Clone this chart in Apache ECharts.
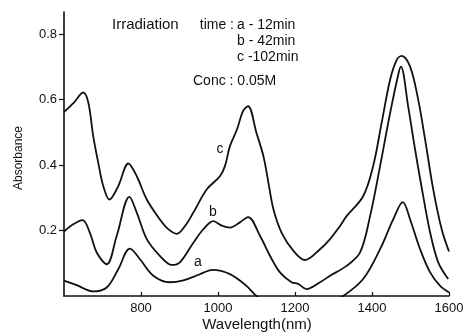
<!DOCTYPE html>
<html>
<head>
<meta charset="utf-8">
<script src="https://cdn.jsdelivr.net/npm/echarts@6/dist/echarts.min.js"></script>
<style>html,body{margin:0;padding:0;background:#fff}#c{width:468px;height:334px}</style>
</head>
<body>
<div id="c"></div>
<script>
// Curve a: irradiation 12 min
var waveA = [600, 633, 676, 711, 741, 771, 797, 832, 875, 910, 950, 986, 1031, 1074, 1100, 1150, 1250, 1325, 1377, 1421, 1455, 1480, 1499, 1525, 1551, 1577, 1600];
var absA  = [0.047, 0.033, 0.014, 0.026, 0.082, 0.145, 0.113, 0.062, 0.042, 0.048, 0.065, 0.080, 0.067, 0.031, 0.0, -0.04, -0.05, 0.0, 0.052, 0.143, 0.234, 0.287, 0.234, 0.143, 0.072, 0.031, 0.011];
// Curve b: irradiation 42 min
var waveB = [600, 624, 648, 667, 685, 711, 737, 770, 789, 815, 849, 880, 901, 936, 962, 988, 1010, 1031, 1057, 1078, 1109, 1135, 1161, 1191, 1208, 1230, 1265, 1291, 1334, 1369, 1395, 1421, 1447, 1469, 1475, 1494, 1512, 1533, 1551, 1572, 1598];
var absB  = [0.197, 0.219, 0.232, 0.194, 0.133, 0.097, 0.184, 0.303, 0.255, 0.174, 0.123, 0.095, 0.103, 0.163, 0.204, 0.229, 0.215, 0.209, 0.225, 0.241, 0.184, 0.123, 0.072, 0.042, 0.037, 0.021, 0.042, 0.062, 0.092, 0.133, 0.244, 0.397, 0.559, 0.681, 0.701, 0.579, 0.447, 0.305, 0.194, 0.103, 0.052];
// Curve c: irradiation 102 min
var waveC = [600, 625, 650, 663, 676, 689, 702, 718, 741, 767, 789, 815, 849, 870, 893, 915, 936, 971, 1005, 1018, 1031, 1049, 1065, 1078, 1100, 1118, 1131, 1144, 1165, 1196, 1226, 1265, 1291, 1317, 1334, 1377, 1403, 1425, 1447, 1464, 1477, 1499, 1520, 1538, 1559, 1581, 1600];
var absC  = [0.562, 0.590, 0.622, 0.592, 0.488, 0.407, 0.336, 0.295, 0.336, 0.405, 0.366, 0.295, 0.234, 0.205, 0.190, 0.215, 0.255, 0.326, 0.366, 0.397, 0.458, 0.508, 0.565, 0.580, 0.498, 0.427, 0.346, 0.265, 0.194, 0.138, 0.110, 0.143, 0.174, 0.214, 0.244, 0.305, 0.397, 0.529, 0.661, 0.721, 0.734, 0.701, 0.600, 0.478, 0.326, 0.204, 0.136];

var xTicks = [800, 1000, 1200, 1400, 1600];
var yTicks = [0.2, 0.4, 0.6, 0.8];
var curveNames = ['a', 'b', 'c'];
var legendLines = ['a - 12min', 'b - 42min', 'c -102min'];
var concText = 'Conc : 0.05M';

function pairs(xs, ys) { return xs.map(function (x, i) { return [x, ys[i]]; }); }

var FONT = 'Liberation Sans';
var INK = '#111';
var chart = echarts.init(document.getElementById('c'), null, { renderer: 'canvas' });

function lineSeries(xs, ys) {
  return {
    type: 'line', data: pairs(xs, ys), smooth: 0.35, symbol: 'none', clip: true,
    lineStyle: { color: INK, width: 1.8 }
  };
}

chart.setOption({
  animation: false,
  backgroundColor: '#fff',
  grid: { left: 64, right: 19, top: 12, bottom: 38 },
  xAxis: {
    type: 'value', min: 600, max: 1600,
    axisLine: { lineStyle: { color: INK, width: 1.6 } },
    axisTick: { inside: true, length: 4, customValues: xTicks, lineStyle: { color: INK, width: 1.2 } },
    axisLabel: { customValues: xTicks, margin: 6, color: INK, fontSize: 13, fontFamily: FONT,
      formatter: function (v) { return String(v); } },
    splitLine: { show: false }
  },
  yAxis: {
    type: 'value', min: 0, max: 0.868,
    axisLine: { show: true, lineStyle: { color: INK, width: 1.6 } },
    axisTick: { show: true, inside: false, length: 5, customValues: yTicks, lineStyle: { color: INK, width: 1.2 } },
    axisLabel: { customValues: yTicks, margin: 7, color: INK, fontSize: 13, fontFamily: FONT,
      formatter: function (v) { return v.toFixed(1); } },
    splitLine: { show: false }
  },
  series: [lineSeries(waveA, absA), lineSeries(waveB, absB), lineSeries(waveC, absC)],
  graphic: [
    { type: 'text', x: 112, y: 25, style: { text: 'Irradiation', fill: INK, font: '15px "' + FONT + '"', align: 'left', verticalAlign: 'middle' } },
    { type: 'text', x: 234, y: 25, style: { text: 'time :', fill: INK, font: '14px "' + FONT + '"', align: 'right', verticalAlign: 'middle' } },
    { type: 'text', x: 237, y: 25, style: { text: legendLines[0], fill: INK, font: '14px "' + FONT + '"', align: 'left', verticalAlign: 'middle' } },
    { type: 'text', x: 237, y: 41, style: { text: legendLines[1], fill: INK, font: '14px "' + FONT + '"', align: 'left', verticalAlign: 'middle' } },
    { type: 'text', x: 237, y: 57, style: { text: legendLines[2], fill: INK, font: '14px "' + FONT + '"', align: 'left', verticalAlign: 'middle' } },
    { type: 'text', x: 193, y: 81, style: { text: concText, fill: INK, font: '14px "' + FONT + '"', align: 'left', verticalAlign: 'middle' } },
    { type: 'text', x: 198, y: 262, style: { text: curveNames[0], fill: INK, font: '14px "' + FONT + '"', align: 'center', verticalAlign: 'middle' } },
    { type: 'text', x: 213, y: 212, style: { text: curveNames[1], fill: INK, font: '14px "' + FONT + '"', align: 'center', verticalAlign: 'middle' } },
    { type: 'text', x: 220, y: 149, style: { text: curveNames[2], fill: INK, font: '14px "' + FONT + '"', align: 'center', verticalAlign: 'middle' } },
    { type: 'text', x: 19, y: 158, rotation: Math.PI / 2, style: { text: 'Absorbance', fill: INK, font: '12px "' + FONT + '"', align: 'center', verticalAlign: 'middle' } },
    { type: 'text', x: 257, y: 325, style: { text: 'Wavelength(nm)', fill: INK, font: '15px "' + FONT + '"', align: 'center', verticalAlign: 'middle' } }
  ]
});
</script>
</body>
</html>
